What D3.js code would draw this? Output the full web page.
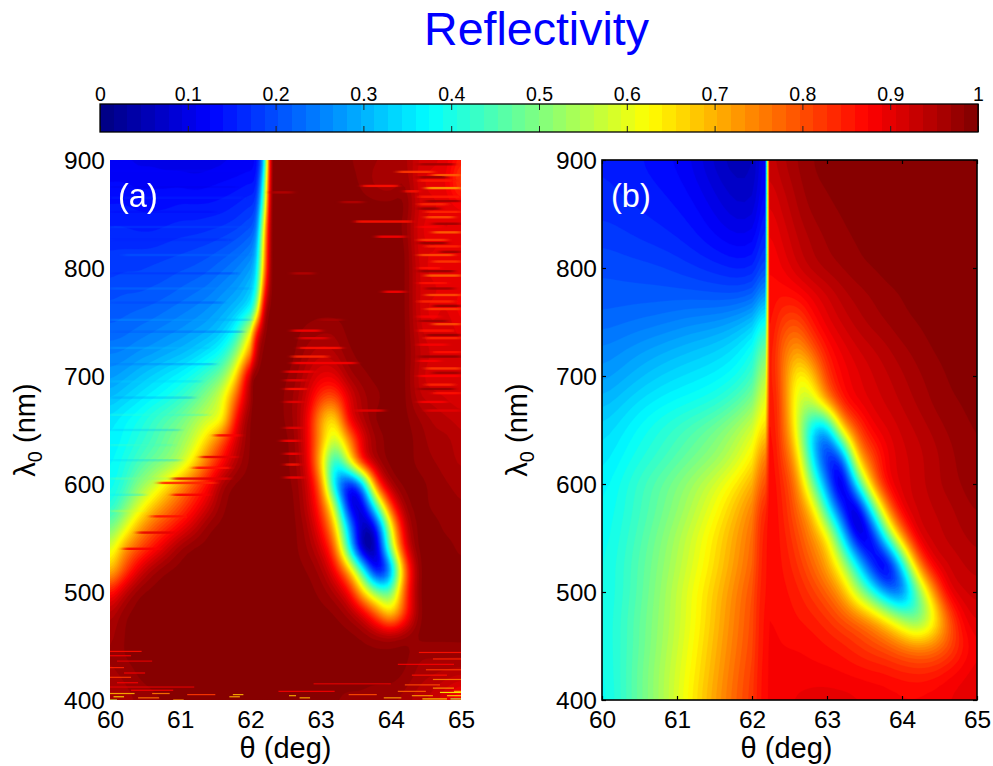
<!DOCTYPE html>
<html><head><meta charset="utf-8">
<script src="https://cdn.jsdelivr.net/npm/d3@7"></script>
<style>
html,body{margin:0;padding:0;background:#fff}
text{font-family:"Liberation Sans",Arial,sans-serif;fill:#000}
</style></head><body>
<svg id="c" width="993" height="766"></svg>
<script>
const titleText = "Reflectivity";
const barTicks = [0,0.1,0.2,0.3,0.4,0.5,0.6,0.7,0.8,0.9,1];
const thetaTicks = [60,61,62,63,64,65];
const lambdaTicks = [400,500,600,700,800,900];

// Panel (a): measured. Columns are angle, rows are wavelength.
const thetaA = [60,60.2,60.4,60.6,60.8,61,61.2,61.4,61.6,61.8,62,62.1,62.2,62.3,62.4,62.6,62.8,63,63.2,63.4,63.6,63.8,64,64.2,64.4,64.6,64.8,65];
const lambdaA = [900,880,860,840,820,800,780,760,740,720,700,680,660,640,620,600,580,560,540,520,500,480,460,440,420,400];
const reflA = [
[.11,.11,.105,.105,.1,.1,.1,.1,.105,.11,.115,.14,.32,.98,.99,.99,.99,.99,.99,.985,.98,.97,.97,.96,.92,.91,.9,.85],
[.125,.125,.12,.12,.12,.12,.115,.12,.125,.13,.14,.16,.42,.985,.99,.99,.99,.99,.99,.99,.98,.96,.95,.97,.91,.9,.89,.8],
[.14,.14,.135,.135,.135,.14,.14,.14,.145,.155,.17,.2,.5,.99,.99,.99,.99,.99,.99,.99,.99,.99,.99,.99,.92,.91,.9,.88],
[.155,.155,.15,.15,.155,.16,.16,.165,.17,.18,.2,.25,.62,.99,.99,.99,.99,.99,.99,.99,.99,.99,.99,.98,.91,.9,.91,.9],
[.17,.17,.17,.17,.175,.18,.185,.19,.2,.215,.24,.31,.68,.99,.99,.99,.99,.99,.99,.99,.99,.99,.99,.99,.91,.91,.9,.89],
[.18,.185,.185,.19,.195,.2,.205,.215,.23,.25,.28,.36,.72,.99,.99,.99,.99,.99,.99,.99,.99,.99,.99,.99,.92,.9,.91,.9],
[.195,.2,.2,.205,.21,.22,.23,.24,.26,.28,.32,.42,.82,.99,.99,.99,.99,.99,.99,.99,.99,.99,.99,.99,.92,.91,.9,.89],
[.21,.215,.22,.225,.235,.245,.255,.27,.29,.32,.38,.58,.94,.99,.99,.99,.99,.99,.99,.99,.99,.99,.99,.99,.92,.9,.91,.88],
[.225,.23,.24,.25,.26,.27,.285,.3,.33,.4,.62,.88,.98,.99,.99,.99,.98,.97,.97,.99,.99,.99,.99,.99,.93,.91,.92,.9],
[.25,.255,.27,.28,.295,.31,.33,.36,.4,.52,.75,.95,.99,.99,.99,.99,.96,.94,.95,.98,.99,.99,.99,.99,.94,.92,.92,.91],
[.275,.29,.31,.33,.35,.37,.4,.44,.5,.66,.96,.99,.99,.99,.99,.98,.94,.9,.9,.96,.98,.99,.99,.99,.93,.91,.91,.91],
[.31,.33,.35,.37,.39,.42,.46,.52,.6,.78,.97,.99,.99,.99,.99,.97,.92,.82,.8,.9,.96,.98,.99,.99,.94,.93,.92,.91],
[.35,.37,.39,.42,.45,.48,.53,.58,.62,.87,.99,.99,.99,.99,.99,.97,.9,.72,.65,.88,.95,.99,.99,.99,.97,.95,.94,.93],
[.36,.38,.41,.44,.48,.52,.58,.68,.8,.92,.99,.99,.99,.99,.99,.98,.9,.72,.56,.72,.9,.97,.99,.99,.98,.96,.96,.94],
[.37,.4,.44,.48,.51,.56,.66,.78,.87,.95,.99,.99,.99,.99,.99,.98,.91,.68,.38,.58,.86,.96,.99,.99,.98,.97,.96,.95],
[.38,.42,.5,.56,.64,.72,.8,.87,.96,.99,.99,.99,.99,.99,.99,.985,.93,.76,.33,.13,.3,.8,.96,.99,.99,.98,.97,.96],
[.4,.48,.58,.67,.74,.8,.86,.92,.98,.99,.99,.99,.99,.99,.99,.99,.94,.82,.55,.12,.1,.45,.82,.97,.99,.98,.98,.97],
[.48,.58,.7,.78,.83,.88,.93,.98,.99,.99,.99,.99,.99,.99,.99,.99,.96,.87,.68,.3,.05,.14,.6,.92,.99,.99,.98,.98],
[.58,.72,.8,.86,.92,.97,.99,.99,.99,.99,.99,.99,.99,.99,.99,.99,.97,.92,.78,.4,.04,.07,.5,.875,.99,.99,.99,.98],
[.68,.8,.9,.96,.985,.99,.99,.99,.99,.99,.99,.99,.99,.99,.99,.99,.985,.96,.88,.7,.4,.1,.25,.75,.98,.99,.99,.99],
[.85,.93,.98,.99,.99,.99,.99,.99,.99,.99,.99,.99,.99,.99,.99,.99,.99,.98,.95,.875,.67,.5,.47,.8,.985,.99,.99,.99],
[.94,.98,.99,.99,.99,.99,.99,.99,.99,.99,.99,.99,.99,.99,.99,.99,.99,.99,.985,.96,.9,.78,.66,.82,.98,.99,.99,.99],
[.96,.985,.99,.99,.99,.99,.99,.99,.99,.99,.99,.99,.99,.99,.99,.99,.99,.99,.99,.99,.98,.96,.95,.97,.99,.99,.99,.99],
[.97,.985,.99,.99,.99,.99,.99,.99,.99,.99,.99,.99,.99,.99,.99,.99,.99,.99,.99,.99,.99,.99,.99,.99,.97,.97,.97,.97],
[.96,.97,.985,.99,.99,.99,.99,.99,.99,.99,.99,.99,.99,.99,.99,.99,.99,.99,.99,.99,.99,.99,.99,.98,.96,.95,.94,.93],
[.95,.96,.97,.98,.985,.985,.985,.99,.99,.99,.99,.99,.99,.99,.99,.99,.99,.985,.985,.98,.98,.97,.97,.96,.94,.93,.9,.86]
];
// Fine horizontal streaks seen in panel (a): wavelength, from angle, to angle, reflectivity.
const streaksBright = [
[889,64.1,64.6,.82],[886,64.6,65,.78],[881,64.4,64.9,.85],[876,63.6,64.1,.86],[874,64.5,65,.72],[871,64.2,64.4,.86],[866,64.4,65,.85],
[859,64.4,64.8,.84],[852,64.5,65,.84],[847,64.5,64.9,.8],[843,63.5,64.3,.86],[838,64.4,64.7,.88],[833,64.6,65,.78],[829,63.8,64.2,.88],[826,64.4,64.8,.82],[820,64.5,65,.84],[812,64.4,64.9,.8],[806,64.6,65,.82],[800,64.4,64.7,.86],[793,64.5,65,.78],[786,64.4,64.8,.86],[778,63.9,64.2,.88],[775,64.5,65,.8],[769,64.4,64.9,.84],[762,64.5,65,.82],[755,64.4,64.7,.88],[748,64.6,65,.8],[742,64.4,64.9,.86],[735,64.5,65,.84],[729,64.4,64.8,.88],[722,64.6,65,.86],[714,64.4,64.7,.88],[707,64.5,65,.82],[700,64.4,65,.87],[692,64.5,64.9,.84],[684,64.6,65,.86],[676,64.4,64.8,.88],[668,64.5,65,.9],
[896,64.4,64.9,.97],[884,64.4,64.8,.98],[862,64.5,65,.97],[855,64.4,64.7,.98],[841,64.6,65,.97],[823,64.4,64.8,.98],[815,64.7,65,.97],[797,64.4,64.9,.98],[781,64.5,64.9,.97],[765,64.6,65,.98],[751,64.4,64.8,.97],[738,64.5,65,.98],[718,64.4,65,.98],[703,64.6,65,.97],[688,64.4,64.9,.98],
[742,62.6,63,.88],[735,62.7,63.1,.9],[726,62.7,63.3,.86],[718,62.6,63.1,.84],[712,62.6,63.5,.88],[704,62.5,62.9,.88],[696,62.5,62.8,.9],[688,62.5,62.8,.86],[676,62.5,62.75,.9],[668,63.5,63.9,.9],[652,62.5,62.75,.9],[640,62.45,62.7,.88],[628,62.5,62.7,.88],[618,62.5,62.7,.86],[606,62.5,62.75,.88],
[870,62.3,62.6,.95],[861,63.3,63.6,.95],[795,62.6,62.9,.95],[752,63,63.3,.96],
[605,60.9,61.7,.9],[601,60.7,61.5,.84],[645,61.5,61.85,.88],[625,61.3,61.8,.9],[615,61.2,61.7,.86],[590,60.9,61.4,.88],[570,60.6,61.1,.86],[555,60.4,60.9,.9],[540,60.2,60.7,.88]
];
const streaksFine = [
[445,60,60.45,.86],[444,64.4,65,.86],[441,60,60.3,.88],[438,64.6,65,.84],[436,60.1,60.6,.9],[433,64.1,64.9,.88],[430,60,60.2,.84],[428,64.5,65,.82],[425,60.2,60.5,.88],[423,64.3,64.8,.86],[421,60,60.3,.82],[419,64.6,65,.76],[416,60.1,60.4,.88],[415,62.9,64,.9],[414,64.2,64.7,.8],[412,60,61.2,.9],[411,64.6,64.9,.72],[409,60.3,60.9,.88],[408,62.4,63.2,.88],[408,64.1,64.5,.78],[407,64.7,65,.62],[406,60,60.35,.7],[406,60.6,60.85,.76],[405,61.1,61.5,.82],[405,63.4,63.8,.8],[404,64.3,64.6,.72],[404,64.8,65,.66],[403,60.05,60.2,.66],[403,61.7,61.85,.7],[402,60.4,60.7,.76],[402,62.7,62.85,.7],[402,63.9,64.15,.72],[401,64.45,64.8,.66],[401,64.85,65,.55],[400,60,60.1,.55],[400,60.9,61.05,.72],[405,61.75,61.9,.7],[404,62.55,62.65,.7],[408,64.9,65,.68]
];
const streaksFaint = [
[890,60,62,.14],[875,60,61.8,.1],[865,60,61.9,.17],[852,60,61.5,.12],[838,60,62,.2],[826,60,61.7,.15],[812,60.2,62,.24],[795,60,61.8,.16],[781,60,62,.26],[768,60,61.6,.18],[752,60,62,.28],[741,60,61.9,.2],[726,60,61.4,.31],[711,60,61.5,.24],[695,60,61.3,.33],[680,60,61.2,.27],[664,60,61.4,.42],[650,60,61,.31],[636,60,60.9,.44],[622,60,61,.33],[605,60,61.2,.5],[590,60,60.5,.36],[575,60,60.5,.58]
];

// Panel (b): computed. The optical edge lies between 62.18 and 62.24 deg.
const thetaB = [60,60.4,60.8,61.2,61.6,62,62.18,62.24,62.4,62.6,62.8,63,63.2,63.4,63.6,63.8,64,64.2,64.4,64.6,64.8,65];
const lambdaB = [900,875,850,825,800,775,750,725,700,675,650,625,600,575,550,525,500,475,450,425,400];
const reflB = [
[.155,.145,.13,.11,.06,.05,.13,.93,.95,.97,.985,.99,.99,.99,.99,.99,.99,.99,.99,.99,.99,.99],
[.16,.15,.14,.12,.08,.06,.14,.915,.935,.96,.98,.985,.99,.99,.99,.99,.99,.99,.99,.99,.99,.99],
[.17,.16,.15,.135,.1,.08,.16,.9,.92,.95,.97,.98,.985,.99,.99,.99,.99,.99,.99,.99,.99,.99],
[.185,.175,.165,.15,.125,.115,.18,.885,.905,.935,.955,.97,.98,.985,.99,.99,.99,.99,.99,.99,.99,.99],
[.2,.195,.19,.175,.16,.15,.21,.875,.89,.92,.945,.96,.97,.98,.985,.99,.99,.99,.99,.99,.99,.99],
[.21,.21,.21,.21,.205,.21,.29,.87,.86,.87,.895,.92,.945,.96,.97,.98,.985,.99,.99,.99,.99,.99],
[.225,.235,.245,.26,.27,.31,.4,.87,.82,.8,.86,.9,.925,.945,.96,.97,.98,.985,.99,.99,.99,.99],
[.25,.27,.29,.31,.33,.38,.5,.865,.78,.72,.79,.86,.895,.92,.935,.95,.965,.975,.985,.99,.99,.99],
[.27,.3,.33,.35,.37,.42,.58,.86,.78,.62,.67,.82,.875,.9,.92,.935,.95,.965,.975,.985,.99,.99],
[.3,.34,.37,.39,.42,.5,.63,.86,.8,.58,.56,.72,.85,.89,.91,.925,.94,.955,.97,.98,.985,.99],
[.33,.37,.41,.45,.5,.58,.68,.87,.8,.6,.33,.27,.65,.8,.88,.905,.925,.94,.955,.97,.98,.985],
[.345,.39,.43,.48,.53,.63,.78,.875,.82,.68,.36,.15,.2,.68,.8,.885,.915,.93,.945,.96,.975,.985],
[.36,.415,.47,.53,.6,.7,.82,.875,.84,.75,.5,.25,.04,.37,.72,.88,.91,.93,.945,.96,.97,.98],
[.37,.42,.48,.55,.64,.75,.86,.875,.85,.78,.68,.42,.17,.03,.37,.72,.89,.92,.935,.945,.96,.97],
[.375,.43,.5,.58,.67,.77,.87,.875,.855,.81,.74,.65,.38,.1,.1,.42,.72,.9,.925,.94,.95,.96],
[.38,.44,.51,.59,.68,.78,.87,.875,.86,.83,.78,.71,.58,.37,.15,.06,.35,.72,.89,.92,.935,.945],
[.38,.44,.52,.61,.7,.8,.87,.875,.865,.85,.82,.78,.71,.56,.41,.25,.2,.45,.7,.89,.92,.93],
[.38,.45,.525,.61,.71,.805,.875,.875,.87,.86,.85,.83,.8,.77,.72,.64,.54,.47,.58,.76,.88,.91],
[.38,.45,.53,.62,.72,.81,.875,.88,.875,.875,.87,.86,.85,.83,.81,.79,.76,.74,.75,.79,.85,.89],
[.375,.455,.54,.63,.73,.82,.875,.88,.88,.88,.88,.88,.875,.87,.865,.86,.85,.845,.85,.87,.885,.9],
[.37,.455,.54,.64,.74,.825,.875,.88,.885,.895,.9,.9,.9,.895,.89,.885,.88,.88,.885,.89,.9,.91]
];

const levels = d3.range(64);
function jet(v){
  const c = t => Math.round(255*Math.max(0,Math.min(1,1.5-Math.abs(4*v-t))));
  return `rgb(${c(3)},${c(2)},${c(1)})`;
}
const levelColor = i => jet((i+0.5)/64);

// Smooth drawing surface through the read values.
function cr(p0,p1,p2,p3,t){
  return 0.5*((2*p1)+(-p0+p2)*t+(2*p0-5*p1+4*p2-p3)*t*t+(-p0+3*p1-3*p2+p3)*t*t*t);
}
function resample(arr,k){
  const out=[];
  for(let i=0;i<arr.length-1;i++){
    for(let j=0;j<k;j++){
      out.push(cr(arr[Math.max(i-1,0)],arr[i],arr[i+1],arr[Math.min(i+2,arr.length-1)],j/k));
    }
  }
  out.push(arr[arr.length-1]);
  return out;
}
function linear(arr,k){
  const out=[];
  for(let i=0;i<arr.length-1;i++) for(let j=0;j<k;j++) out.push(arr[i]+(arr[i+1]-arr[i])*j/k);
  out.push(arr[arr.length-1]);
  return out;
}
function surface(thetas,lambdas,grid,splits,k,radius){
  const segs=[];let s=0;
  [...splits,thetas.length].forEach(e=>{segs.push([s,e]);s=e;});
  const lambdas2=linear(lambdas,k);
  const thetas2=[];
  const out=lambdas2.map(()=>[]);
  segs.forEach(([a,b])=>{
    const th=linear(thetas.slice(a,b),k);
    thetas2.push(...th);
    const rowsUp=grid.map(r=>resample(r.slice(a,b),k));
    const w=th.length,h=lambdas2.length;
    const data=new Float64Array(w*h);
    for(let c=0;c<w;c++){
      resample(rowsUp.map(r=>r[c]),k).forEach((v,r)=>{data[r*w+c]=v;});
    }
    d3.blur2({data,width:w,height:h},radius,radius);
    for(let r=0;r<h;r++) for(let c=0;c<w;c++) out[r].push(Math.max(0,Math.min(0.995,data[r*w+c])));
  });
  return {thetas2,lambdas2,out};
}

const svg = d3.select("#c");
const defs = svg.append("defs");
defs.append("filter").attr("id","smear").attr("x","-5%").attr("width","110%").attr("y","-5%").attr("height","110%")
  .append("feGaussianBlur").attr("stdDeviation","3 0.35");

// Title
svg.append("text").attr("x",536.5).attr("y",45).attr("text-anchor","middle")
  .style("font-size","46.5px").style("fill","#0000ff").text(titleText);

// Colour bar
const barX = d3.scaleLinear().domain([0,1]).range([100,978]);
const barTop = 104, barBottom = 132;
const bar = svg.append("g");
bar.selectAll("rect").data(levels).join("rect")
  .attr("x",d=>barX(d/64)).attr("width",d=>barX((d+1)/64)-barX(d/64)+0.5)
  .attr("y",barTop).attr("height",barBottom-barTop)
  .attr("fill",levelColor).attr("shape-rendering","crispEdges");
const barAxisTop = d3.axisTop(barX).tickValues(barTicks).tickFormat(d3.format("~g")).tickSizeInner(-6).tickSizeOuter(0).tickPadding(11);
const gBT = svg.append("g").attr("transform",`translate(0,${barTop})`).call(barAxisTop);
gBT.select(".domain").remove();
gBT.selectAll("text").style("font-size","19.5px").attr("y",-3);
gBT.selectAll("line").attr("stroke","#222").attr("stroke-width",1);
const gBB = svg.append("g").attr("transform",`translate(0,${barBottom})`)
  .call(d3.axisBottom(barX).tickValues(barTicks).tickFormat("").tickSizeInner(-6).tickSizeOuter(0));
gBB.select(".domain").remove();
gBB.selectAll("line").attr("stroke","#222").attr("stroke-width",1);
svg.append("rect").attr("x",100).attr("y",barTop).attr("width",878).attr("height",barBottom-barTop)
  .attr("fill","none").attr("stroke","#000").attr("stroke-width",1.3);

function panel(id,x0,x1,thetas,lambdas,grid,splits,radius){
  const top=160,bottom=700;
  const xs=d3.scaleLinear().domain([60,65]).range([x0,x1]);
  const ys=d3.scaleLinear().domain([400,900]).range([bottom,top]);
  grid.forEach((r,ri)=>{ if(r.length!==thetas.length) throw new Error(id+" row "+ri+" has "+r.length); });
  if(grid.length!==lambdas.length) throw new Error(id+" rows "+grid.length);
  const {thetas2,lambdas2,out}=surface(thetas,lambdas,grid,splits,4,radius);
  const ixs=d3.scaleLinear().domain(thetas2.map((_,i)=>i+0.5)).range(thetas2).clamp(true);
  const iys=d3.scaleLinear().domain(lambdas2.map((_,i)=>i+0.5)).range(lambdas2).clamp(true);
  const contours=d3.contours().size([thetas2.length,lambdas2.length]).smooth(true).thresholds(levels.map(i=>i/64))(out.flat());
  const path=d3.geoPath(d3.geoTransform({point(px,py){this.stream.point(xs(ixs(px)),ys(iys(py)));}}));
  svg.append("clipPath").attr("id","clip"+id).append("rect")
    .attr("x",x0).attr("y",top).attr("width",x1-x0).attr("height",bottom-top);
  const g=svg.append("g").attr("clip-path",`url(#clip${id})`);
  g.selectAll("path").data(contours).join("path")
    .attr("d",path).attr("fill",(d,i)=>levelColor(i)).attr("stroke",(d,i)=>levelColor(i)).attr("stroke-width",0.3);
  return {xs,ys,g,top,bottom,x0,x1};
}

function axes(p,framed){
  const {xs,ys,top,bottom,x0,x1}=p;
  const inner=framed?-4:0;
  const ax=svg.append("g").attr("transform",`translate(0,${bottom})`)
    .call(d3.axisBottom(xs).tickValues(thetaTicks).tickFormat(d3.format("d")).tickSizeInner(inner).tickSizeOuter(0));
  const ay=svg.append("g").attr("transform",`translate(${x0},0)`)
    .call(d3.axisLeft(ys).tickValues(lambdaTicks).tickFormat(d3.format("d")).tickSizeInner(inner).tickSizeOuter(0));
  [ax,ay].forEach(a=>{a.select(".domain").remove();a.selectAll("text").style("font-size","24.5px");a.selectAll("line").attr("stroke","#000").attr("stroke-width",1.2);});
  ax.selectAll("text").attr("y",8).attr("dy","0.8em");
  ay.selectAll("text").attr("x",-5).attr("dy","0.36em");
  if(framed){
    const at=svg.append("g").attr("transform",`translate(0,${top})`)
      .call(d3.axisTop(xs).tickValues(thetaTicks).tickFormat("").tickSizeInner(-4).tickSizeOuter(0));
    const ar=svg.append("g").attr("transform",`translate(${x1},0)`)
      .call(d3.axisRight(ys).tickValues(lambdaTicks).tickFormat("").tickSizeInner(-4).tickSizeOuter(0));
    [at,ar].forEach(a=>{a.select(".domain").remove();a.selectAll("line").attr("stroke","#000").attr("stroke-width",1.2);});
    svg.append("rect").attr("x",x0).attr("y",top).attr("width",x1-x0).attr("height",bottom-top)
      .attr("fill","none").attr("stroke","#000").attr("stroke-width",1.6);
  }
  svg.append("text").attr("x",(x0+x1)/2+(framed?-3:0)).attr("y",758).attr("text-anchor","middle")
    .style("font-size","29px").text("θ (deg)");
  const yl=svg.append("text").attr("transform",`translate(${x0-75},430) rotate(-90)`).attr("text-anchor","middle")
    .style("font-size","29px");
  yl.append("tspan").text("λ");
  yl.append("tspan").attr("dy",7).style("font-size","20px").text("0");
  yl.append("tspan").attr("dy",-7).text(" (nm)");
}

const pA=panel("A",110,461,thetaA,lambdaA,reflA,[],0.7);
function drawStreaks(p,list,opacity,half,filter){
  const g=p.g.append("g");
  if(filter) g.attr("filter","url(#"+filter+")");
  g.selectAll("rect").data(list).join("rect")
    .attr("x",d=>p.xs(d[1])).attr("width",d=>p.xs(d[2])-p.xs(d[1]))
    .attr("y",d=>p.ys(d[0]+half)).attr("height",d=>p.ys(d[0]-half)-p.ys(d[0]+half))
    .attr("fill",d=>jet(d[3])).attr("opacity",opacity);
}
drawStreaks(pA,streaksFaint,0.3,1.1,"smear");
drawStreaks(pA,streaksBright,0.9,1.1,"smear");
drawStreaks(pA,streaksFine,0.9,0.55,null);
axes(pA,false);
svg.append("text").attr("x",118).attr("y",207).style("font-size","32.5px").style("fill","#fff").text("(a)");

const pB=panel("B",602,977,thetaB,lambdaB,reflB,[7],1.1);
axes(pB,true);
svg.append("text").attr("x",611).attr("y",207).style("font-size","32.5px").style("fill","#fff").text("(b)");
</script>
</body></html>
